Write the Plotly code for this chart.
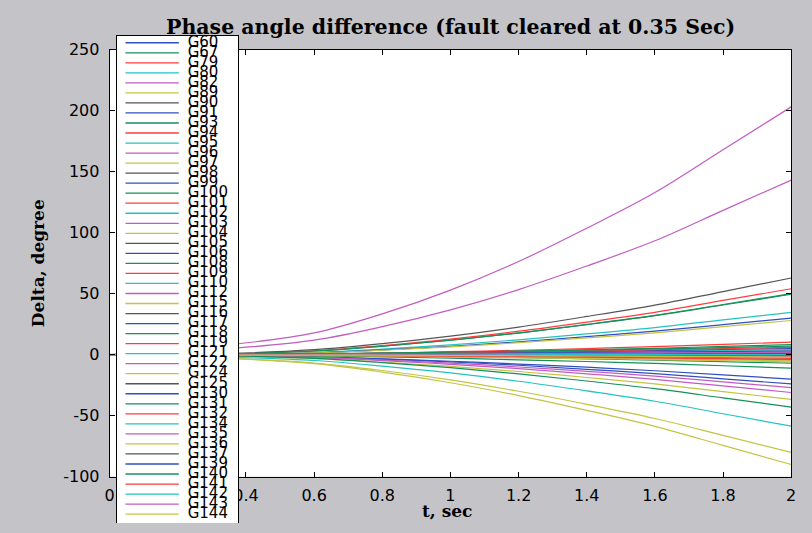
import plotly.graph_objects as go

# ---------------- data ----------------
t = [0, 0.35, 0.6, 0.8, 1.0, 1.2, 1.4, 1.6, 1.8, 2.0]

names = ["G60", "G67", "G79", "G80", "G82", "G89", "G90", "G91", "G93", "G94",
         "G95", "G96", "G97", "G98", "G99", "G100", "G101", "G102", "G103", "G104",
         "G105", "G106", "G108", "G109", "G110", "G112", "G115", "G116", "G117", "G118",
         "G119", "G121", "G122", "G124", "G125", "G130", "G131", "G132", "G134", "G135",
         "G136", "G137", "G139", "G140", "G141", "G142", "G143", "G144"]

G60 = [0, -1, -2, -3.5, -5.4, -7.7, -10.3, -13.2, -16.6, -20]
G67 = [0, 0.5, 3, 6.9, 11.9, 17.8, 24.8, 32.2, 41.1, 50]
G79 = [0, 0.5, 3.2, 7.5, 12.8, 19.2, 26.7, 34.7, 44.4, 54]
G80 = [0, 0, 1.7, 4.5, 8, 12.1, 17, 22.2, 28.5, 34.7]
G82 = [0, 8, 17.8, 33.4, 52.9, 76.3, 103.6, 132.8, 167.9, 203]
G89 = [0, -3, -6.9, -13, -20.7, -30, -40.7, -52.3, -66.1, -80]
G90 = [0, 1, 4.1, 9, 15.2, 22.6, 31.3, 40.6, 51.7, 62.8]
G91 = [0, 0, 1.5, 3.9, 6.9, 10.5, 14.7, 19.2, 24.6, 30]
G93 = [0, 0.5, 3, 6.9, 11.8, 17.7, 24.5, 31.9, 40.7, 49.5]
G94 = [0, 0, 0.5, 1.3, 2.4, 3.6, 5, 6.6, 8.4, 10.3]
G95 = [0, -2, -4.8, -9.4, -15, -21.8, -29.7, -38.2, -48.4, -58.6]
G96 = [0, 5, 11.9, 22.9, 36.7, 53.3, 72.6, 93.3, 118.2, 143]
G97 = [0, 0, 1.4, 3.6, 6.4, 9.8, 13.7, 17.9, 23, 28]
G98 = [0, 0.5, 0.6, 0.8, 1.1, 1.4, 1.7, 2.1, 2.6, 3]
G99 = [0, -0.5, -1.7, -3.6, -5.9, -8.7, -12, -15.5, -19.8, -24]
G100 = [0, 0, 0.4, 1.1, 1.9, 2.9, 4, 5.2, 6.7, 8.2]
G101 = [0, 0.3, 0.4, 0.5, 0.7, 0.9, 1.1, 1.4, 1.7, 2]
G102 = [0, -0.3, -0.2, -0.1, 0, 0.2, 0.3, 0.5, 0.8, 1]
G103 = [0, -1, -2.3, -4.4, -7, -10.1, -13.7, -17.6, -22.3, -27]
G104 = [0, -3, -7.4, -14.3, -23, -33.5, -45.6, -58.7, -74.3, -90]
G105 = [0, 0, -0.1, -0.1, -0.2, -0.4, -0.5, -0.6, -0.8, -1]
G106 = [0, 0.2, 0.2, 0.2, 0.3, 0.3, 0.3, 0.4, 0.4, 0.5]
G108 = [0, 0, -0.4, -0.9, -1.6, -2.5, -3.4, -4.5, -5.7, -7]
G109 = [0, 0, -0.2, -0.4, -0.7, -1.1, -1.5, -1.9, -2.5, -3]
G110 = [0, 0.5, 0.7, 1, 1.3, 1.7, 2.2, 2.7, 3.4, 4]
G112 = [0, -1, -2.5, -4.9, -7.9, -11.5, -15.7, -20.2, -25.6, -31]
G115 = [0, -1.5, -3.3, -6.1, -9.6, -13.8, -18.7, -24, -30.3, -36.6]
G116 = [0, 0.3, 0.4, 0.6, 0.8, 1, 1.2, 1.5, 1.9, 2.2]
G117 = [0, 0.5, 0.7, 1.1, 1.5, 2.1, 2.7, 3.4, 4.2, 5]
G118 = [0, -1, -3.1, -6.5, -10.7, -15.7, -21.6, -27.9, -35.4, -43]
G119 = [0, -0.2, -0.3, -0.4, -0.6, -0.8, -1.1, -1.4, -1.7, -2]
G121 = [0, -0.5, -0.7, -1, -1.3, -1.7, -2.2, -2.7, -3.4, -4]
G122 = [0, 0.2, 0.3, 0.4, 0.5, 0.7, 0.8, 1, 1.3, 1.5]
G124 = [0, -0.5, -0.7, -1.1, -1.5, -2.1, -2.7, -3.4, -4.2, -5]
G125 = [0, 0.1, 0.1, 0.1, 0.1, 0, 0, 0, 0, 0]
G130 = [0, -0.2, -0.2, -0.3, -0.4, -0.5, -0.6, -0.7, -0.9, -1]
G131 = [0, -0.5, -1, -1.9, -2.9, -4.2, -5.6, -7.2, -9.1, -11]
G132 = [0, 0.3, 0.6, 1, 1.6, 2.3, 3.1, 4, 5, 6]
G134 = [0, 0, 0.1, 0.3, 0.6, 0.9, 1.2, 1.6, 2, 2.5]
G135 = [0, -0.3, -0.4, -0.5, -0.6, -0.7, -0.9, -1.1, -1.3, -1.5]
G136 = [0, -0.5, -0.8, -1.2, -1.8, -2.4, -3.2, -4, -5, -6]
G137 = [0, 0.2, 0.2, 0.3, 0.4, 0.5, 0.6, 0.7, 0.9, 1]
G139 = [0, 0.3, 0.4, 0.7, 0.9, 1.2, 1.6, 2, 2.5, 3]
G140 = [0, 0.5, 0.8, 1.3, 2, 2.8, 3.7, 4.7, 5.8, 7]
G141 = [0, -0.3, -0.5, -0.8, -1.2, -1.6, -2.1, -2.7, -3.3, -4]
G142 = [0, -0.1, -0.1, -0.1, -0.1, 0, 0, 0, 0, 0]
G143 = [0, 0.2, 0.3, 0.4, 0.6, 0.8, 1.1, 1.4, 1.7, 2]
G144 = [0, -0.3, -0.4, -0.5, -0.7, -0.9, -1.1, -1.4, -1.7, -2]

series = [G60, G67, G79, G80, G82, G89, G90, G91, G93, G94,
          G95, G96, G97, G98, G99, G100, G101, G102, G103, G104,
          G105, G106, G108, G109, G110, G112, G115, G116, G117, G118,
          G119, G121, G122, G124, G125, G130, G131, G132, G134, G135,
          G136, G137, G139, G140, G141, G142, G143, G144]

x_tickvals = [0, 0.2, 0.4, 0.6, 0.8, 1.0, 1.2, 1.4, 1.6, 1.8, 2.0]
x_ticktext = ["0", "0.2", "0.4", "0.6", "0.8", "1", "1.2", "1.4", "1.6", "1.8", "2"]
y_tickvals = [-100, -50, 0, 50, 100, 150, 200, 250]
y_ticktext = ["-100", "-50", "0", "50", "100", "150", "200", "250"]

# ---------------- style / layout ----------------
colors = ["#2f4fc0", "#15905a", "#ff3b3b", "#25c2c2", "#c25cc2", "#c4c443", "#555555"]
BG = "#c4c4c8"
W, H = 812, 533
# main axes box (page pixels)
ax_l, ax_r, ax_t, ax_b = 106, 796, 42, 485
# legend box (page pixels)
lg_l, lg_r, lg_t = 113, 236, 28
lg_first, lg_step = 35, 10.4

fig = go.Figure()

for i, (nm, ys) in enumerate(zip(names, series)):
    fig.add_trace(go.Scatter(
        x=t, y=ys, mode="lines", name=nm, showlegend=False,
        line=dict(color=colors[i % 7], width=1.2, shape="spline", smoothing=1.0),
        hoverinfo="skip", xaxis="x", yaxis="y"))

# compact legend drawn on its own axes over the plot
n = len(names)
for i, nm in enumerate(names):
    fig.add_trace(go.Scatter(
        x=[0.073, 0.512], y=[i, i], mode="lines", showlegend=False,
        line=dict(color=colors[i % 7], width=1.3), hoverinfo="skip",
        xaxis="x2", yaxis="y2"))
fig.add_trace(go.Scatter(
    x=[0.585] * n, y=list(range(n)), text=names, mode="text",
    textposition="middle right", showlegend=False, hoverinfo="skip",
    textfont=dict(family="DejaVu Sans", size=15, color="black"),
    cliponaxis=False, xaxis="x2", yaxis="y2"))

y2_top = (lg_t - lg_first) / lg_step
y2_bot = (H - lg_first) / lg_step

tickfont = dict(family="DejaVu Sans", size=16, color="black")
fig.update_layout(
    width=W, height=H, autosize=False,
    margin=dict(l=0, r=0, t=0, b=0),
    paper_bgcolor=BG, plot_bgcolor="white",
    showlegend=False,
    xaxis=dict(domain=[ax_l / W, ax_r / W], range=[0, 2],
               tickvals=x_tickvals, ticktext=x_ticktext,
               ticks="inside", ticklen=5, tickcolor="black",
               showline=True, linecolor="black", linewidth=1, mirror="ticks",
               showgrid=False, zeroline=False, tickfont=tickfont,
               ticklabelstandoff=4, anchor="y"),
    yaxis=dict(domain=[1 - ax_b / H, 1 - ax_t / H], range=[-100, 250],
               tickvals=y_tickvals, ticktext=y_ticktext,
               ticks="inside", ticklen=5, tickcolor="black",
               showline=True, linecolor="black", linewidth=1, mirror="ticks",
               showgrid=False, zeroline=False, tickfont=tickfont,
               ticklabelstandoff=6, anchor="x"),
    xaxis2=dict(domain=[lg_l / W, lg_r / W], range=[0, 1], side="top",
                showline=True, linecolor="black", linewidth=1, mirror=False,
                showticklabels=False, ticks="", showgrid=False, zeroline=False,
                anchor="y2", fixedrange=True),
    yaxis2=dict(domain=[0, 1 - lg_t / H], range=[y2_bot, y2_top],
                showline=True, linecolor="black", linewidth=1, mirror=True,
                showticklabels=False, ticks="", showgrid=False, zeroline=False,
                anchor="x2", fixedrange=True),
    annotations=[
        dict(text="<b>Phase angle difference (fault cleared at 0.35 Sec)</b>",
             xref="paper", yref="paper", x=451 / W, y=1 - 19 / H,
             xanchor="center", yanchor="middle", showarrow=False,
             font=dict(family="DejaVu Serif", size=20.5, color="black")),
        dict(text="<b>Delta, degree</b>", textangle=-90,
             xref="paper", yref="paper", x=33 / W, y=1 - 264 / H,
             xanchor="center", yanchor="middle", showarrow=False,
             font=dict(family="DejaVu Serif", size=17, color="black")),
        dict(text="<b>t, sec</b>",
             xref="paper", yref="paper", x=448 / W, y=1 - 521 / H,
             xanchor="center", yanchor="middle", showarrow=False,
             font=dict(family="DejaVu Serif", size=17, color="black")),
    ],
)

post = ("document.documentElement.style.margin='0';"
        "document.documentElement.style.background='" + BG + "';"
        "document.body.style.margin='0';document.body.style.padding='0';"
        "document.body.style.overflow='hidden';"
        "document.body.style.background='" + BG + "';")

fig.write_html("out.html", config={"displayModeBar": False}, post_script=post)
